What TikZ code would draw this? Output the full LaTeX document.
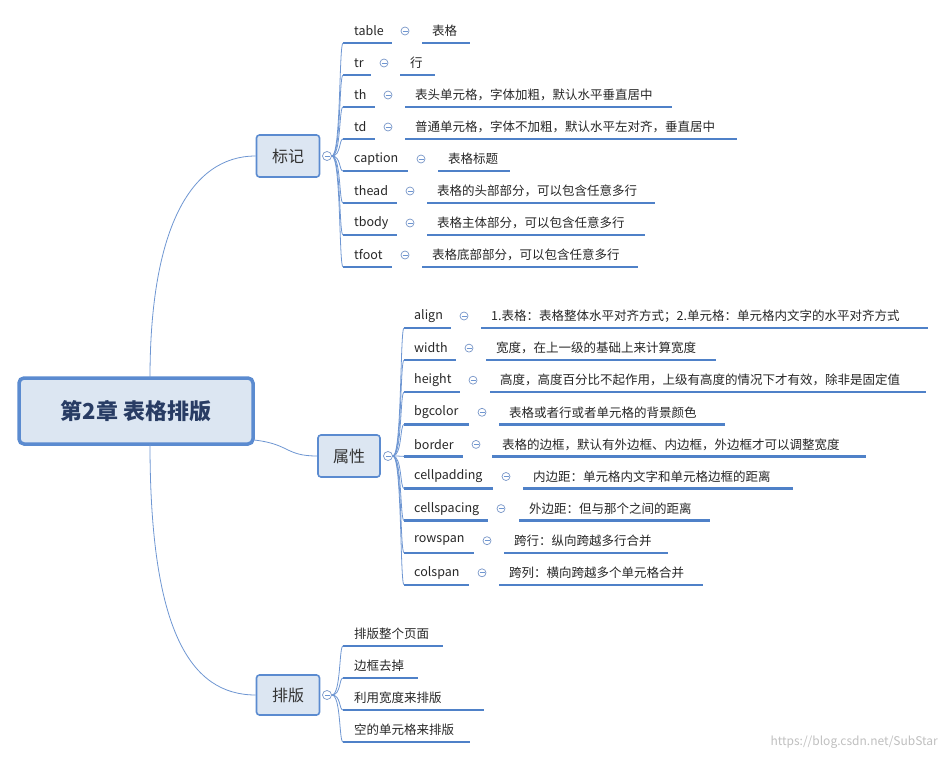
\documentclass[tikz,border=0pt]{standalone}
\usepackage{fontspec}
\setmainfont{Noto Sans CJK SC}
\begin{document}
\begin{tikzpicture}[x=1pt,y=-1pt,
  every node/.style={font=\fontsize{12.5}{14}\selectfont, text=black!85, inner sep=0pt},
  under/.style={draw=blue!45!cyan!60!black!80, color={rgb,255:red,79;green,129;blue,200}, line width=2.4pt},
  conn/.style={draw={rgb,255:red,110;green,150;blue,210}, line width=0.8pt},
  iconc/.style={circle, draw={rgb,255:red,120;green,150;blue,200}, fill=white, minimum size=9pt, inner sep=0pt, line width=0.7pt},
  topic/.style={draw={rgb,255:red,91;green,139;blue,208}, fill={rgb,255:red,220;green,230;blue,242}, rounded corners=3pt, line width=1.6pt, font=\fontsize{16}{18}\selectfont, text=black!80}]
\path[use as bounding box] (0,0) rectangle (946,760);
% central
\node[topic, line width=3.5pt, rounded corners=5pt, minimum width=234pt, minimum height=66pt, font=\fontsize{22}{24}\selectfont\bfseries, text={rgb,255:red,40;green,60;blue,100}] (root) at (136,411) {第2章 表格排版};
\node[topic, minimum width=63pt, minimum height=42pt] (t1) at (288,156) {标记};
\node[topic, minimum width=62pt, minimum height=42pt] (t2) at (349,456) {属性};
\node[topic, minimum width=63pt, minimum height=40pt] (t3) at (288,695) {排版};
\coordinate (r1) at (150,378);
\coordinate (r3) at (150,444);
\coordinate (r2) at (254,440);
\draw[conn] (r1) .. controls (150,230) and (190,156) .. (t1.west);
\draw[conn] (r2) .. controls (290,444) and (285,456) .. (t2.west);
\draw[conn] (r3) .. controls (150,630) and (190,695) .. (t3.west);
\node[iconc] (c1) at (327,156) {};
\node[iconc] (c2) at (388,456) {};
\node[iconc] (c3) at (327,695) {};
\foreach \c in {c1,c2,c3}{\draw[conn,line width=0.7pt] ([xshift=-2.5pt]\c.center) -- ([xshift=2.5pt]\c.center);}
% group 1
\foreach \k/\ix/\v/\ve [count=\n] in {table/405/432/470, tr/384/410/435, th/388/415/672, td/388/415/737, caption/421/448/510, thead/410/437/655, tbody/410/437/645, tfoot/405/432/638}{
  \pgfmathsetmacro\y{31+(\n-1)*32}
  \node[anchor=west] (ak\n) at (354,\y) {\k};
}
\foreach \ix/\v/\ve/\val [count=\n] in {405/432/470/表格, 384/410/435/行, 388/415/672/表头单元格，字体加粗，默认水平垂直居中, 388/415/737/普通单元格，字体不加粗，默认水平左对齐，垂直居中, 421/448/510/表格标题, 410/437/655/表格的头部部分，可以包含任意多行, 410/437/645/表格主体部分，可以包含任意多行, 405/432/638/表格底部部分，可以包含任意多行}{
  \pgfmathsetmacro\y{31+(\n-1)*32}
  \pgfmathsetmacro\yu{\y+12}
  \coordinate (au\n) at (343,\yu);
  \draw[under] (au\n) -- (\ix-13,\yu);
  \node[iconc, minimum size=8pt] (ai\n) at (\ix,\y) {};
  \draw[conn,line width=0.7pt] ([xshift=-2.5pt]ai\n.center) -- ([xshift=2.5pt]ai\n.center);
  \node[anchor=west] (av\n) at (\v,\y) {\val};
  \draw[under] (\v-10,\yu) -- (\ve,\yu);
  \draw[conn] (c1.east) .. controls (341,156) and (339,\yu) .. (au\n);
}
% group 2
\foreach \k [count=\n] in {align,width,height,bgcolor,border,cellpadding,cellspacing,rowspan,colspan}{
  \pgfmathsetmacro\y{316+(\n-1)*32.1}
  \node[anchor=west] (bk\n) at (414,\y) {\k};
}
\foreach \ix/\v/\ve/\val [count=\n] in {464/491/928/1.表格：表格整体水平对齐方式；2.单元格：单元格内文字的水平对齐方式, 469/496/716/宽度，在上一级的基础上来计算宽度, 473/500/926/高度，高度百分比不起作用，上级有高度的情况下才有效，除非是固定值, 482/509/725/表格或者行或者单元格的背景颜色, 476/502/866/表格的边框，默认有外边框、内边框，外边框才可以调整宽度, 506/533/793/内边距：单元格内文字和单元格边框的距离, 501/529/710/外边距：但与那个之间的距离, 487/514/668/跨行：纵向跨越多行合并, 482/509/703/跨列：横向跨越多个单元格合并}{
  \pgfmathsetmacro\y{316+(\n-1)*32.1}
  \pgfmathsetmacro\yu{\y+12}
  \coordinate (bu\n) at (404,\yu);
  \draw[under] (bu\n) -- (\ix-13,\yu);
  \node[iconc, minimum size=8pt] (bi\n) at (\ix,\y) {};
  \draw[conn,line width=0.7pt] ([xshift=-2.5pt]bi\n.center) -- ([xshift=2.5pt]bi\n.center);
  \node[anchor=west] (bv\n) at (\v,\y) {\val};
  \draw[under] (\v-10,\yu) -- (\ve,\yu);
  \draw[conn] (c2.east) .. controls (402,456) and (400,\yu) .. (bu\n);
}
% group 3
\foreach \val/\ve [count=\n] in {排版整个页面/443, 边框去掉/418, 利用宽度来排版/484, 空的单元格来排版/470}{
  \pgfmathsetmacro\y{634+(\n-1)*32}
  \pgfmathsetmacro\yu{\y+12}
  \coordinate (cu\n) at (343,\yu);
  \node[anchor=west] (cv\n) at (354,\y) {\val};
  \draw[under] (cu\n) -- (\ve,\yu);
  \draw[conn] (c3.east) .. controls (341,695) and (339,\yu) .. (cu\n);
}
\node[anchor=east, text=black!25, font=\fontsize{12}{14}\selectfont] (wm) at (938,742) {https://blog.csdn.net/SubStar};
\end{tikzpicture}
\end{document}
